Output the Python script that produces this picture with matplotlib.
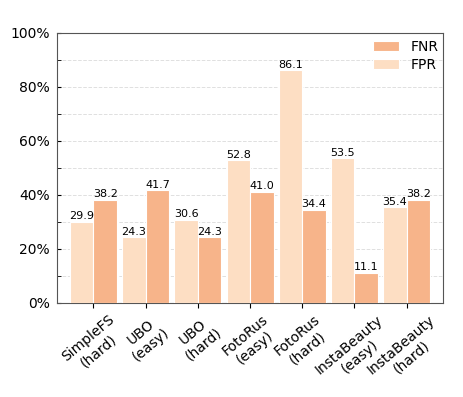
import numpy as np
import matplotlib
matplotlib.use("Agg")
import matplotlib.pyplot as plt
from matplotlib.ticker import PercentFormatter, MultipleLocator

labels = ["SimpleFS\n(hard)", "UBO\n(easy)", "UBO\n(hard)", "FotoRus\n(easy)",
          "FotoRus\n(hard)", "InstaBeauty\n(easy)", "InstaBeauty\n(hard)"]
fpr = [29.9, 24.3, 30.6, 52.8, 86.1, 53.5, 35.4]
fnr = [38.2, 41.7, 24.3, 41.0, 34.4, 11.1, 38.2]

c_fpr = "#fddec3"
c_fnr = "#f7b48a"

fig = plt.figure(figsize=(4.63, 3.97), dpi=100)
ax = fig.add_axes([0.123, 0.237, 0.834, 0.68])

x = np.arange(len(labels))
w = 0.45
b1 = ax.bar(x - w / 2, fpr, w, color=c_fpr, edgecolor="white", linewidth=0.8, label="FPR", zorder=3)
b2 = ax.bar(x + w / 2, fnr, w, color=c_fnr, edgecolor="white", linewidth=0.8, label="FNR", zorder=3)

for bars, vals in ((b1, fpr), (b2, fnr)):
    for r, v in zip(bars, vals):
        ax.text(r.get_x() + r.get_width() / 2, v + 0.3, f"{v:.1f}",
                ha="center", va="bottom", fontsize=8, zorder=4)

ax.set_xlim(-0.7, 6.7)
ax.set_ylim(0, 100)
ax.yaxis.set_major_locator(MultipleLocator(20))
ax.yaxis.set_minor_locator(MultipleLocator(10))
ax.yaxis.set_major_formatter(PercentFormatter(decimals=0))
ax.grid(axis="y", which="both", linestyle="--", color="#e0e0e0", linewidth=0.7, zorder=0)
ax.set_xticks(x)
ax.set_xticklabels(labels, rotation=40, ha="center", fontsize=10, multialignment="center")
ax.tick_params(axis="y", which="both", direction="in", length=3, labelsize=10, pad=5)
for s in ax.spines.values():
    s.set_color("#555555")

ax.legend([b2, b1], ["FNR", "FPR"], loc="upper right", frameon=False, fontsize=10,
          labelspacing=0.3, handlelength=1.9, bbox_to_anchor=(1.02, 1.022))

fig.savefig("out.png", dpi=100)
